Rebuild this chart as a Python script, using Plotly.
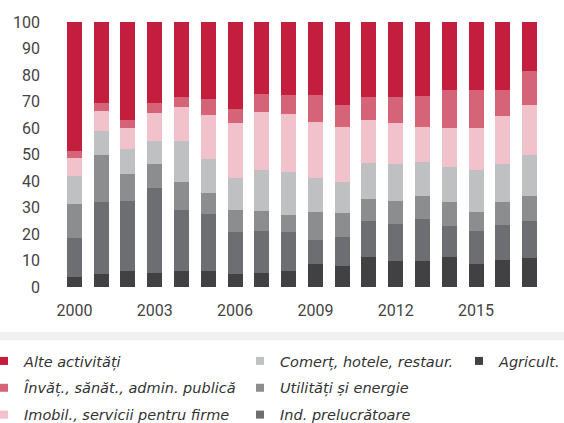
import plotly.graph_objects as go

years = list(range(2000, 2018))
tick_years = [2000, 2003, 2006, 2009, 2012, 2015]
y_ticks = [0, 10, 20, 30, 40, 50, 60, 70, 80, 90, 100]

# segment values (% share), bottom to top
agricult = [3.8, 4.9, 5.9, 5.2, 5.9, 5.9, 4.8, 5.2, 5.9, 8.6, 7.8, 11.2, 9.7, 9.7, 11.2, 8.6, 10.1, 10.8]
ind_prel = [14.6, 27.1, 26.5, 32.1, 23.1, 21.6, 15.9, 15.8, 14.8, 9.0, 11.0, 13.6, 14.0, 15.9, 11.7, 12.4, 13.2, 14.0]
utilitati = [13.0, 17.7, 10.2, 9.0, 10.5, 7.9, 8.3, 7.6, 6.4, 10.6, 9.0, 8.3, 8.7, 8.7, 9.1, 7.2, 8.7, 9.5]
comert = [10.5, 9.1, 9.4, 8.7, 15.5, 12.8, 12.1, 15.5, 16.2, 12.9, 11.7, 13.6, 13.9, 12.8, 13.2, 15.9, 14.3, 15.4]
imobil = [6.8, 7.6, 7.9, 10.6, 12.9, 16.7, 20.7, 21.9, 21.9, 21.1, 20.8, 16.3, 15.5, 13.2, 14.7, 15.8, 18.2, 18.9]
invat = [2.7, 3.0, 3.1, 3.8, 3.8, 6.0, 5.3, 6.8, 7.2, 10.2, 8.3, 8.7, 9.9, 11.7, 14.4, 14.4, 9.8, 12.9]
alte = [48.6, 30.6, 37.0, 30.6, 28.3, 29.1, 32.9, 27.2, 27.6, 27.6, 31.4, 28.3, 28.3, 28.0, 25.7, 25.7, 25.7, 18.5]

series = [
    ("Agricult.", agricult, "#414042", "legend3"),
    ("Ind. prelucrătoare", ind_prel, "#6d6e71", "legend2"),
    ("Utilități și energie", utilitati, "#8c8d8f", "legend2"),
    ("Comerț, hotele, restaur.", comert, "#bfc0c2", "legend2"),
    ("Imobil., servicii pentru firme", imobil, "#f1c1cc", "legend"),
    ("Învăț., sănăt., admin. publică", invat, "#d66479", "legend"),
    ("Alte activități", alte, "#c41e3f", "legend"),
]

fig = go.Figure()
for name, vals, color, _ in series:
    fig.add_trace(go.Bar(x=years, y=vals, name=name, marker=dict(color=color, line=dict(width=0)),
                         showlegend=False))

legend_order = ["Alte activități", "Învăț., sănăt., admin. publică", "Imobil., servicii pentru firme",
                "Comerț, hotele, restaur.", "Utilități și energie", "Ind. prelucrătoare", "Agricult."]
lookup = {s[0]: s for s in series}
for name in legend_order:
    _, _, color, leg = lookup[name]
    fig.add_trace(go.Scatter(x=[None], y=[None], mode="markers", name=name, legend=leg, legendgroup=name,
                             hoverinfo="skip",
                             marker=dict(symbol="square", size=8, color=color, line=dict(width=0))))

W, H = 564, 423
ML, MR, MT, MB = 61, 21, 22, 136
PW, PH = W - ML - MR, H - MT - MB
leg_font = dict(family="DejaVu Sans", size=14.5, color="#333333", style="italic")

def leg(xpx, ypx):
    return dict(x=(xpx - ML) / PW, y=(H - MB - ypx) / PH, xref="paper", yref="paper",
                xanchor="left", yanchor="top",
                font=leg_font, tracegroupgap=5, traceorder="grouped", bgcolor="rgba(0,0,0,0)", borderwidth=0)

fig.update_layout(
    width=W, height=H,
    margin=dict(l=ML, r=MR, t=MT, b=MB, autoexpand=False),
    paper_bgcolor="white", plot_bgcolor="white",
    barmode="stack", bargap=0.44,
    showlegend=True,
    legend=leg(-16, 345),
    legend2=leg(240, 345),
    legend3=leg(459, 345),
    xaxis=dict(range=[1999.5, 2017.5], tickvals=tick_years, showgrid=False, zeroline=False, showline=False,
               ticks="", ticklabelstandoff=12, tickfont=dict(family="Roboto", size=16, color="#444444")),
    yaxis=dict(range=[0, 100], tickvals=y_ticks, showgrid=False, zeroline=False, showline=False,
               ticks="", ticklabelstandoff=20, tickfont=dict(family="Roboto", size=16, color="#444444")),
    shapes=[dict(type="rect", xref="paper", yref="paper", x0=-0.2, x1=1.1, y0=-0.2014, y1=-0.170,
                 fillcolor="#f0f0f0", line=dict(width=0), layer="below")],
)

fig.write_html("out.html", config={"displayModeBar": False},
               post_script="document.body.style.margin='0';document.body.style.overflow='hidden';")
